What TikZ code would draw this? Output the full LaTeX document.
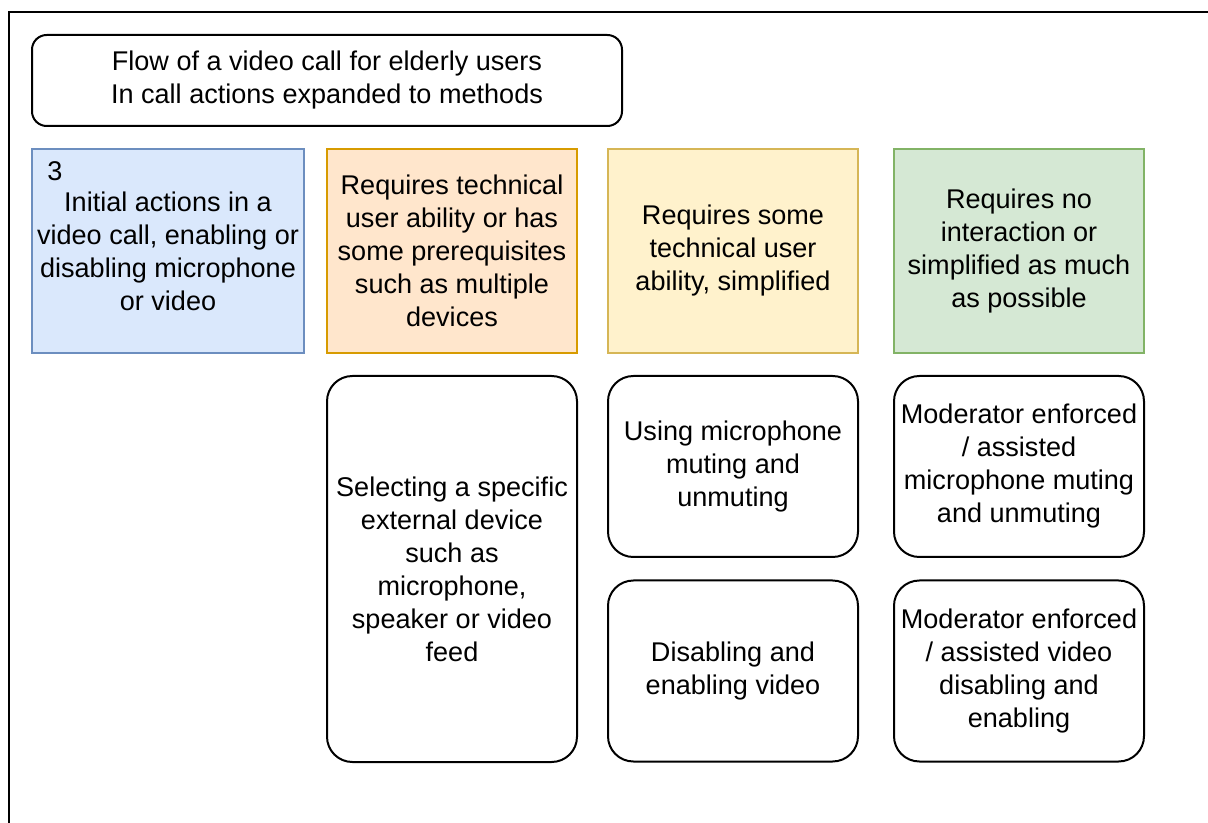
\documentclass[tikz,border=0pt]{standalone}
\usepackage{fontspec}
\setmainfont{Liberation Sans}
\definecolor{bluefill}{HTML}{DAE8FC}\definecolor{bluedraw}{HTML}{6C8EBF}
\definecolor{orangefill}{HTML}{FFE6CC}\definecolor{orangedraw}{HTML}{D79B00}
\definecolor{yellowfill}{HTML}{FFF2CC}\definecolor{yellowdraw}{HTML}{D6B656}
\definecolor{greenfill}{HTML}{D5E8D4}\definecolor{greendraw}{HTML}{82B366}
\begin{document}
\begin{tikzpicture}[x=0.75pt,y=-0.75pt,
  every node/.style={font=\fontsize{20.3}{24.75}\selectfont, align=center, inner sep=0pt, outer sep=0pt},
  catbox/.style={draw, line width=1.5pt, rectangle, minimum width=187.5pt, minimum height=153pt},
  roundbox/.style={draw, line width=1.5pt, rectangle, rounded corners=19pt, minimum width=187.5pt, fill=white},
]
\useasboundingbox (0,0) rectangle (1208,823);
\draw[line width=1.6pt] (9,830) -- (9,12) -- (1215,12);
\node[draw, line width=1.5pt, rounded corners=11pt, minimum width=442.5pt, minimum height=68.25pt] (title) at (327,80.5)
  {Flow of a video call for elderly users\\In call actions expanded to methods};
\node[catbox, fill=bluefill, draw=bluedraw, minimum width=204pt] (initial) at (168,251)
  {Initial actions in a\\video call, enabling or\\disabling microphone\\or video};
\node[anchor=center] (num) at (55,171) {3};
\node[catbox, fill=orangefill, draw=orangedraw] (tech) at (452,251)
  {Requires technical\\user ability or has\\some prerequisites\\such as multiple\\devices};
\node[catbox, fill=yellowfill, draw=yellowdraw] (some) at (733,251)
  {Requires some\\technical user\\ability, simplified};
\node[catbox, fill=greenfill, draw=greendraw] (none) at (1019,251)
  {Requires no\\interaction or\\simplified as much\\as possible};
\node[roundbox, minimum height=289.5pt] (device) at (452,569)
  {Selecting a specific\\external device\\such as\\microphone,\\speaker or video\\feed};
\node[roundbox, minimum height=135.75pt] (mic) at (733,466.5)
  {Using microphone\\muting and\\unmuting};
\node[roundbox, minimum height=135.75pt] (video) at (733,671)
  {Disabling and\\enabling video};
\node[roundbox, minimum height=135.75pt] (modmic) at (1019,466.5)
  {Moderator enforced\\/ assisted\\microphone muting\\and unmuting};
\node[roundbox, minimum height=135.75pt] (modvideo) at (1019,671)
  {Moderator enforced\\/ assisted video\\disabling and\\enabling};
\end{tikzpicture}
\end{document}
